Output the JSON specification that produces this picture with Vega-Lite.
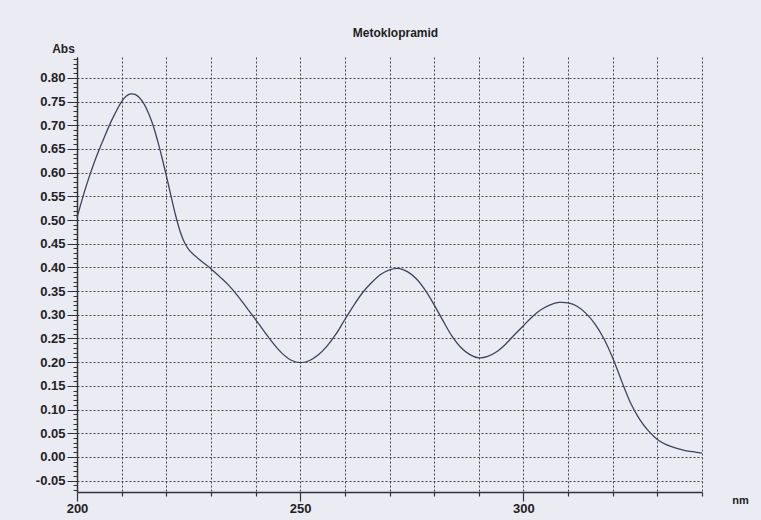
{
  "$schema": "https://vega.github.io/schema/vega-lite/v6.json",
  "width": 625,
  "height": 435,
  "autosize": {"type": "none"},
  "padding": {"left": 77, "top": 57, "right": 59, "bottom": 28},
  "background": "#ebebf4",
  "title": {
    "text": "Metoklopramid",
    "anchor": "middle",
    "dx": 6,
    "dy": 14,
    "offset": 16,
    "font": "Liberation Sans",
    "fontSize": 12,
    "fontWeight": "bold",
    "color": "#1e1e1e"
  },
  "config": {
    "view": {"stroke": null},
    "axis": {
      "labelFont": "Liberation Sans",
      "titleFont": "Liberation Sans",
      "labelFontWeight": "bold",
      "titleFontWeight": "bold",
      "labelFontSize": 13,
      "labelColor": "#222",
      "titleColor": "#222",
      "domainColor": "#333",
      "domainWidth": 1.5,
      "tickColor": "#333",
      "tickWidth": 1.2,
      "gridColor": "#444",
      "gridDash": [2, 2],
      "gridWidth": 1
    }
  },
  "data": {
    "values": [
      {"nm": 200, "abs": 0.505},
      {"nm": 202, "abs": 0.57},
      {"nm": 204, "abs": 0.625},
      {"nm": 206, "abs": 0.672},
      {"nm": 208, "abs": 0.715},
      {"nm": 210, "abs": 0.75},
      {"nm": 211, "abs": 0.761},
      {"nm": 212, "abs": 0.766},
      {"nm": 213, "abs": 0.765},
      {"nm": 214, "abs": 0.758},
      {"nm": 215, "abs": 0.745},
      {"nm": 216, "abs": 0.726},
      {"nm": 217, "abs": 0.701},
      {"nm": 218, "abs": 0.669},
      {"nm": 219, "abs": 0.633},
      {"nm": 220, "abs": 0.594},
      {"nm": 221, "abs": 0.553},
      {"nm": 222, "abs": 0.513},
      {"nm": 223, "abs": 0.479},
      {"nm": 224, "abs": 0.454},
      {"nm": 225, "abs": 0.438},
      {"nm": 226, "abs": 0.428},
      {"nm": 228, "abs": 0.412},
      {"nm": 230, "abs": 0.397},
      {"nm": 232, "abs": 0.38},
      {"nm": 234, "abs": 0.362},
      {"nm": 236, "abs": 0.34},
      {"nm": 238, "abs": 0.315},
      {"nm": 240, "abs": 0.29},
      {"nm": 242, "abs": 0.264},
      {"nm": 244, "abs": 0.239},
      {"nm": 246, "abs": 0.218},
      {"nm": 248, "abs": 0.204},
      {"nm": 250, "abs": 0.199},
      {"nm": 252, "abs": 0.203},
      {"nm": 254, "abs": 0.215},
      {"nm": 256, "abs": 0.234},
      {"nm": 258, "abs": 0.259},
      {"nm": 260, "abs": 0.29},
      {"nm": 262, "abs": 0.32},
      {"nm": 264, "abs": 0.347},
      {"nm": 266, "abs": 0.368},
      {"nm": 268, "abs": 0.385},
      {"nm": 270, "abs": 0.395},
      {"nm": 272, "abs": 0.398},
      {"nm": 274, "abs": 0.391},
      {"nm": 276, "abs": 0.376},
      {"nm": 278, "abs": 0.352},
      {"nm": 280, "abs": 0.321},
      {"nm": 282, "abs": 0.287},
      {"nm": 284, "abs": 0.255},
      {"nm": 286, "abs": 0.231},
      {"nm": 288, "abs": 0.216},
      {"nm": 290, "abs": 0.209},
      {"nm": 292, "abs": 0.212},
      {"nm": 294, "abs": 0.222},
      {"nm": 296, "abs": 0.238},
      {"nm": 298, "abs": 0.258},
      {"nm": 300, "abs": 0.277},
      {"nm": 302, "abs": 0.296},
      {"nm": 304, "abs": 0.311},
      {"nm": 306, "abs": 0.321},
      {"nm": 308, "abs": 0.326},
      {"nm": 310, "abs": 0.325},
      {"nm": 312, "abs": 0.318},
      {"nm": 314, "abs": 0.303},
      {"nm": 316, "abs": 0.281},
      {"nm": 318, "abs": 0.25},
      {"nm": 320, "abs": 0.209},
      {"nm": 322, "abs": 0.16},
      {"nm": 324, "abs": 0.114},
      {"nm": 326, "abs": 0.08},
      {"nm": 328, "abs": 0.055},
      {"nm": 330, "abs": 0.037},
      {"nm": 332, "abs": 0.026},
      {"nm": 334, "abs": 0.019},
      {"nm": 336, "abs": 0.014},
      {"nm": 338, "abs": 0.011},
      {"nm": 340, "abs": 0.008}
    ]
  },
  "mark": {"type": "line", "color": "#3e4458", "strokeWidth": 1.3, "interpolate": "catmull-rom"},
  "encoding": {
    "x": {
      "field": "nm",
      "type": "quantitative",
      "scale": {"domain": [200, 340], "nice": false, "zero": false},
      "axis": {
        "title": "nm",
        "titleX": 663,
        "titleY": 8,
        "titleAlign": "center",
        "titleBaseline": "middle",
        "titleFontSize": 11,
        "values": [200, 210, 220, 230, 240, 250, 260, 270, 280, 290, 300, 310, 320, 330, 340],
        "labelExpr": "datum.value % 50 == 0 ? datum.value : ''",
        "labelPadding": 1,
        "labelFlush": false,
        "tickSize": {"condition": {"test": "datum.value % 50 == 0", "value": 9}, "value": 4},
        "grid": true
      }
    },
    "y": {
      "field": "abs",
      "type": "quantitative",
      "scale": {"domain": [-0.074, 0.844], "nice": false, "zero": false},
      "axis": {
        "title": "Abs",
        "titleAngle": 0,
        "titleX": -14,
        "titleY": -9,
        "titleAlign": "center",
        "titleBaseline": "middle",
        "titleFontSize": 12,
        "values": [-0.07, -0.06, -0.05, -0.04, -0.03, -0.02, -0.01, 0, 0.01, 0.02, 0.03, 0.04, 0.05, 0.06, 0.07, 0.08, 0.09, 0.1, 0.11, 0.12, 0.13, 0.14, 0.15, 0.16, 0.17, 0.18, 0.19, 0.2, 0.21, 0.22, 0.23, 0.24, 0.25, 0.26, 0.27, 0.28, 0.29, 0.3, 0.31, 0.32, 0.33, 0.34, 0.35, 0.36, 0.37, 0.38, 0.39, 0.4, 0.41, 0.42, 0.43, 0.44, 0.45, 0.46, 0.47, 0.48, 0.49, 0.5, 0.51, 0.52, 0.53, 0.54, 0.55, 0.56, 0.57, 0.58, 0.59, 0.6, 0.61, 0.62, 0.63, 0.64, 0.65, 0.66, 0.67, 0.68, 0.69, 0.7, 0.71, 0.72, 0.73, 0.74, 0.75, 0.76, 0.77, 0.78, 0.79, 0.8, 0.81, 0.82, 0.83, 0.84],
        "labelExpr": "round(datum.value * 100) % 5 == 0 ? (datum.value < 0 ? '-' + format(abs(datum.value), '.2f') : format(datum.value, '.2f')) : ''",
        "labelPadding": 2,
        "labelFlush": false,
        "tickSize": {"condition": {"test": "round(datum.value * 100) % 5 == 0", "value": 10}, "value": 4},
        "tickWidth": 1,
        "gridOpacity": {"condition": {"test": "round(datum.value * 100) % 5 == 0", "value": 1}, "value": 0},
        "grid": true
      }
    }
  }
}
